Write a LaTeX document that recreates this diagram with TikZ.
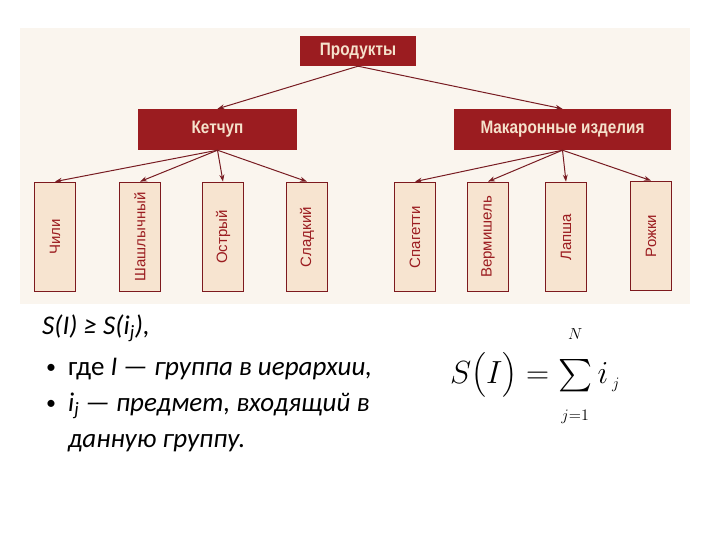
\RequirePackage{fix-cm}
\documentclass[tikz,border=0pt]{standalone}
\usepackage{amsmath}
\usepackage[no-math]{fontspec}
\setmainfont{Carlito}
\newfontfamily\boxfont[FakeStretch=0.85]{Liberation Sans}
\newfontfamily\leaffont{Liberation Sans}
\usetikzlibrary{positioning, arrows.meta}
\definecolor{darkred}{RGB}{155,28,32}
\definecolor{cream}{RGB}{247,228,208}
\definecolor{boxtext}{RGB}{245,226,204}
\definecolor{leafborder}{RGB}{125,25,30}
\definecolor{panel}{RGB}{250,245,238}
\definecolor{arrowred}{RGB}{120,28,34}

\begin{document}
\begin{tikzpicture}[x=1pt, y=-1pt,
  groupbox/.style={fill=darkred, minimum height=41pt, inner sep=0pt, text=boxtext,
                   font=\boxfont\bfseries\fontsize{18}{20}\selectfont},
  leafbox/.style={draw=leafborder, line width=1.8pt, fill=cream, minimum width=41pt,
                  minimum height=109pt, inner sep=0pt, text=darkred,
                  font=\leaffont\fontsize{15}{17}\selectfont},
  link/.style={-{Stealth[length=7pt, width=5pt]}, arrowred, line width=1pt},
  notes/.style={anchor=base west, inner sep=0pt, font=\fontsize{27}{32}\selectfont},
  dot/.style={anchor=base west, inner sep=0pt, font=\fontsize{20}{24}\selectfont}
]
  \useasboundingbox (0,0) rectangle (720,540);
  \fill[panel] (20,28) rectangle (690,304);

  % hierarchy
  \node[groupbox, minimum width=116pt, minimum height=30pt] (products) at (358,51) {Продукты};
  \node[groupbox, minimum width=159pt] (ketchup) at (217.5,129.5) {Кетчуп};
  \node[groupbox, minimum width=217pt] (pasta) at (562.5,129.5) {Макаронные изделия};

  \node[leafbox] (chili) at (55,237) {\rotatebox{90}{Чили}};
  \node[leafbox] (shashlik) at (140,237) {\rotatebox{90}{Шашлычный}};
  \node[leafbox] (spicy) at (223,237) {\rotatebox{90}{Острый}};
  \node[leafbox] (sweet) at (307,237) {\rotatebox{90}{Сладкий}};
  \node[leafbox] (spaghetti) at (415,237) {\rotatebox{90}{Спагетти}};
  \node[leafbox] (vermicelli) at (488,237) {\rotatebox{90}{Вермишель}};
  \node[leafbox] (noodles) at (566,237) {\rotatebox{90}{Лапша}};
  \node[leafbox] (horns) at (651,236) {\rotatebox{90}{Рожки}};

  \draw[link] (products.south) -- (ketchup.north);
  \draw[link] (products.south) -- (pasta.north);
  \foreach \leaf in {chili, shashlik, spicy, sweet}
    \draw[link] (ketchup.south) -- (\leaf.north);
  \foreach \leaf in {spaghetti, vermicelli, noodles, horns}
    \draw[link] (pasta.south) -- (\leaf.north);

  % notes
  \node[notes] (ineq) at (42,334) {\itshape S(I) ≥ S(i\textsubscript{j}),};
  \node[dot] (bulletA) at (46,373) {•};
  \node[notes] (lineA) at (68,375) {где \itshape I — группа в иерархии,};
  \node[dot] (bulletB) at (46,409) {•};
  \node[notes] (lineB) at (68,411) {\itshape i\textsubscript{j} — предмет, входящий в};
  \node[notes] (lineC) at (68,447) {\itshape данную группу.};

  % formula
  \node[inner sep=0pt, font=\fontsize{32}{38}\selectfont] (sumformula) at (535,376)
    {$S\bigl(I\bigr)=\mathop{\vcenter{\hbox{\scalebox{1.3}{$\sum$}}}}\limits_{\rule{0pt}{25pt}\scriptscriptstyle j=1}^{\rule[-17pt]{0pt}{17pt}\scriptscriptstyle N} i_{\,\scriptscriptstyle j}$};
\end{tikzpicture}
\end{document}
